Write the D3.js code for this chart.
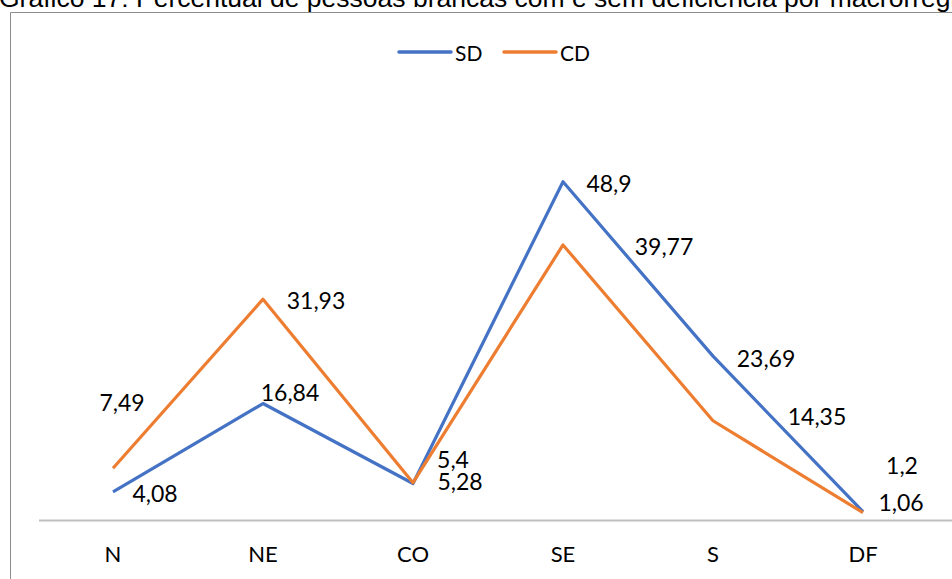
<!DOCTYPE html>
<html>
<head>
<meta charset="utf-8">
<script src="https://cdn.jsdelivr.net/npm/d3@7"></script>
<style>
  body { margin: 0; background: #fff; }
  svg { display: block; }
</style>
</head>
<body>
<script>
// dados
const regioes = ["N", "NE", "CO", "SE", "S", "DF"];
const sd = [4.08, 16.84, 5.28, 48.9, 23.69, 1.2];
const cd = [7.49, 31.93, 5.4, 39.77, 14.35, 1.06];
const rotulosSD = ["4,08", "16,84", "5,28", "48,9", "23,69", "1,2"];
const rotulosCD = ["7,49", "31,93", "5,4", "39,77", "14,35", "1,06"];

// deslocamento dos rótulos (px) em relação ao ponto
const posSD = [[42, 1], [27, -12], [47, -2], [46, 1], [53, 2], [39, -47]];
const posCD = [[9, -66], [53, 1], [40, -24], [101, 1], [104, -5], [38, -11]];

const width = 952, height = 579;
const azul = "#4472C4", laranja = "#ED7D31";

const svg = d3.select("body").append("svg")
    .attr("width", width)
    .attr("height", height);

// moldura do gráfico
svg.append("path")
    .attr("d", "M10.5," + height + "V12.5H" + width)
    .attr("fill", "none")
    .attr("stroke", "#8c8c8c")
    .attr("stroke-width", 1);

// título (cortado no topo)
svg.append("text")
    .attr("x", -1)
    .attr("y", 7)
    .attr("font-family", "Liberation Sans, Arial, sans-serif")
    .attr("font-size", 26.5)
    .attr("fill", "#000")
    .text("Gráfico 17: Percentual de pessoas brancas com e sem deficiência por macrorregião");

const x = d3.scaleBand().domain(regioes).range([38, 938]);
const y = d3.scaleLinear().domain([0, 60]).range([520, 105]);
const cx = d => x(d) + x.bandwidth() / 2;

// eixo x
const eixo = svg.append("g")
    .attr("transform", "translate(0," + y(0) + ")")
    .call(d3.axisBottom(x).tickSize(0).tickPadding(26));
eixo.select(".domain")
    .attr("d", "M39,0.5H" + width)
    .attr("stroke", "#bfbfbf")
    .attr("stroke-width", 2);
eixo.selectAll("text")
    .attr("font-family", "Lato, sans-serif")
    .attr("font-size", 22)
    .attr("fill", "#000");

const linha = d3.line()
    .x((d, i) => cx(regioes[i]))
    .y(d => y(d));

const series = [
    { nome: "SD", valores: sd, rotulos: rotulosSD, pos: posSD, cor: azul },
    { nome: "CD", valores: cd, rotulos: rotulosCD, pos: posCD, cor: laranja }
];

series.forEach(s => {
    svg.append("path")
        .datum(s.valores)
        .attr("d", linha)
        .attr("fill", "none")
        .attr("stroke", s.cor)
        .attr("stroke-width", 3.2)
        .attr("stroke-linejoin", "round");
});

series.forEach(s => {
    svg.append("g").selectAll("text")
        .data(s.valores)
        .enter()
        .append("text")
        .attr("x", (d, i) => cx(regioes[i]) + s.pos[i][0])
        .attr("y", (d, i) => y(d) + s.pos[i][1])
        .attr("text-anchor", "middle")
        .attr("dominant-baseline", "central")
        .attr("font-family", "Lato, sans-serif")
        .attr("font-size", 23)
        .attr("fill", "#000")
        .text((d, i) => s.rotulos[i]);
});

// legenda
const leg = svg.append("g").attr("transform", "translate(399,52)");
series.forEach((s, i) => {
    const g = leg.append("g").attr("transform", "translate(" + (i * 105) + ",0)");
    g.append("line")
        .attr("x1", 0).attr("x2", 52)
        .attr("stroke", s.cor)
        .attr("stroke-width", 3.5)
        .attr("stroke-linecap", "round");
    g.append("text")
        .attr("x", 56)
        .attr("dominant-baseline", "central")
        .attr("font-family", "Lato, sans-serif")
        .attr("font-size", 21)
        .attr("fill", "#000")
        .text(s.nome);
});
</script>
</body>
</html>
